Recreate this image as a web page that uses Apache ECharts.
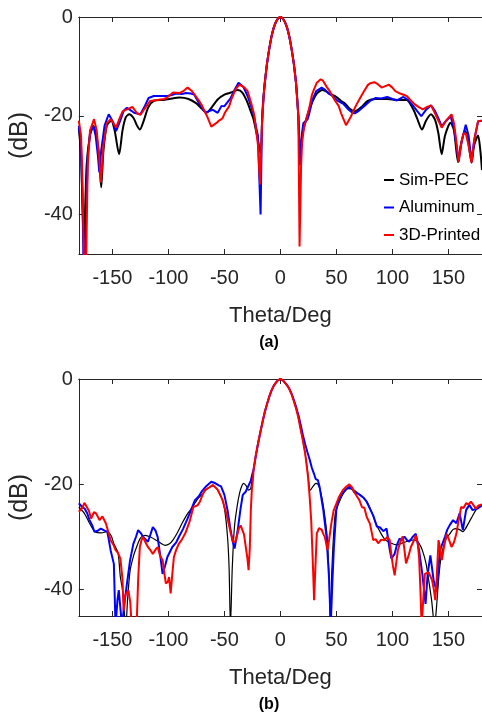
<!DOCTYPE html>
<html>
<head>
<meta charset="utf-8">
<script src="https://cdn.jsdelivr.net/npm/echarts@6/dist/echarts.min.js"></script>
<style>
html,body{margin:0;padding:0;background:#fff;}
#chart{width:482px;height:717px;}
</style>
</head>
<body>
<div id="chart"></div>
<script>
// ---------- data ----------
const seriesNames = ['Sim-PEC', 'Aluminum', '3D-Printed'];
const xTicks = [-150, -100, -50, 0, 50, 100, 150];
const yTicks = [-40, -20, 0];
const panelLabels = ['(a)', '(b)'];

// (a) top panel: [theta deg, dB]
const topSimPEC = [[-180,-22.5],[-178,-28],[-175.5,-46],[-173,-30],[-170,-24],[-167,-22],[-164,-24.5],[-162,-28],[-160,-34.5],[-158,-27],[-155,-22],[-151,-21],[-148,-23],[-144,-27.8],[-141,-23],[-138,-20.3],[-135,-19.7],[-131,-20.5],[-128,-22],[-125.5,-22.8],[-122,-21],[-118,-18.3],[-113,-17],[-105,-16.8],[-99,-16.6],[-90,-16.3],[-82,-16.6],[-75,-17.5],[-70,-18.6],[-66,-19.4],[-62,-18.5],[-56,-16.7],[-50,-15.7],[-44,-15.3],[-38,-14.8],[-34,-15.3],[-30,-17],[-26,-19.4],[-24,-20.7],[-21,-23.9],[-17.7,-27.6],[-16,-19],[-14,-13.5],[-12,-9.5],[-10,-6.5],[-8,-4],[-6,-2.2],[-4,-1],[-2,-0.25],[0,0],[2,-0.25],[4,-1],[6,-2.2],[8,-4],[10,-6.5],[12,-9.5],[14,-13.5],[16,-20],[17.5,-27.3],[20,-23.4],[23.8,-20.1],[28.1,-17.4],[32.5,-15.5],[37.5,-14.8],[45.5,-15.7],[50,-16.2],[54.2,-17],[58,-17.6],[62,-18.6],[66.4,-19.1],[72,-18.3],[78,-17],[85,-16.6],[95,-16.6],[105,-16.8],[112.7,-16.8],[118.6,-18.7],[122,-20.5],[126.4,-22.8],[130,-21],[134.5,-19.7],[138,-20.8],[141,-23.5],[144,-27.8],[147,-24],[151.9,-21.4],[155,-23],[158.6,-29.4],[161,-26],[164.9,-23.1],[167.5,-25],[170.7,-29.5],[173,-26],[176.5,-24],[178.5,-27],[180,-31]];
const topAluminum = [[-180,-22],[-178,-26],[-176.5,-40],[-175.5,-55],[-174,-45],[-172,-28],[-170,-23.5],[-167,-22.1],[-165,-24],[-163,-28],[-161.7,-31.5],[-160,-27],[-157,-22],[-153.3,-19.7],[-150,-21],[-146.7,-23.1],[-143,-21],[-140,-19],[-137,-18.4],[-133,-19],[-130.7,-19.4],[-125,-19.7],[-121,-18],[-117.7,-16.4],[-113,-16],[-106,-16],[-101,-16],[-97,-15.8],[-93,-15.5],[-88,-15.6],[-84.3,-15.4],[-80,-15.5],[-77,-15.7],[-72.8,-17.4],[-67,-19.4],[-63,-19],[-60.3,-18.8],[-56,-19.4],[-52.5,-18],[-50.2,-18.1],[-47,-17.2],[-44.4,-16.4],[-41,-14.8],[-37.4,-13.3],[-33,-14.2],[-29.3,-16],[-26,-18.2],[-23.5,-20.1],[-21.2,-22.9],[-20,-24.1],[-18.9,-32.2],[-17.7,-40],[-16.5,-22],[-15,-16],[-14,-13.5],[-12,-9.5],[-10,-6.5],[-8,-4],[-6,-2.2],[-4,-1],[-2,-0.25],[0,0],[2,-0.25],[4,-1],[6,-2.2],[8,-4],[10,-6.5],[12,-9.5],[14,-13.5],[16,-20],[17.5,-30],[19,-24],[20.5,-21.5],[21.7,-21.1],[24.3,-20.7],[25.5,-19.8],[28.7,-16.7],[32,-15],[36.8,-14.3],[39.7,-14.7],[43,-15.5],[46,-15.9],[51.3,-17],[56.2,-17.6],[61,-18.8],[64.3,-19.4],[66.4,-19.5],[70,-19],[75,-18],[80,-17],[85.2,-16.4],[90,-16.5],[95.4,-16.2],[100,-16.6],[104,-16.9],[109.8,-16.2],[114,-16.8],[118.6,-18],[122,-19],[125.8,-20.1],[130,-18.8],[134.5,-17.9],[138,-19],[141,-20.5],[144,-22.1],[148,-21],[151.9,-20.1],[155,-22.5],[159.1,-29.2],[162,-25],[165.5,-21.8],[168,-24],[170.7,-29.2],[173,-25],[176.5,-21.1],[180,-21]];
const topPrinted = [[-180,-21],[-178,-24],[-176.5,-35],[-175,-55],[-173.5,-50],[-172,-30],[-170,-23],[-166.4,-20.7],[-164,-23],[-162,-28],[-160.3,-33.5],[-158,-26],[-155,-21.5],[-151.6,-20.7],[-149,-21.5],[-146.7,-22.4],[-143.5,-20.5],[-140.9,-19.1],[-136,-18.6],[-132.2,-18.2],[-128,-19.5],[-125,-19.8],[-121,-18.5],[-116.2,-17],[-110,-16.8],[-104,-16.6],[-101.7,-16.4],[-98,-15.7],[-95.9,-15.3],[-90.1,-15.4],[-86,-14.9],[-82.9,-14.3],[-79,-15],[-75.7,-16],[-72,-17.2],[-69.9,-18],[-65.5,-20.1],[-61.7,-22.2],[-57.4,-21.5],[-55.4,-21.1],[-51.6,-20.5],[-49.6,-19.4],[-45.8,-18.1],[-43.8,-16.7],[-40,-14.6],[-36.5,-13.7],[-32,-14.3],[-29.3,-15],[-26,-17.5],[-23.5,-19.7],[-21.2,-23.7],[-20,-26],[-18.9,-31],[-18,-33.9],[-16.5,-22],[-15,-16],[-14,-13.5],[-12,-9.5],[-10,-6.5],[-8,-4],[-6,-2.2],[-4,-1],[-2,-0.25],[0,0],[2,-0.25],[4,-1],[6,-2.2],[8,-4],[10,-6.5],[12,-9.5],[14,-13.5],[16,-20],[17.1,-46.5],[18.5,-30],[19.4,-25.4],[21,-22.5],[23.8,-20.1],[25.8,-18.4],[28.1,-15.8],[30.1,-14.6],[32.5,-13.3],[36,-12.6],[38,-12.9],[41.2,-14.1],[44,-15],[48.4,-16.8],[52,-18],[54.2,-19.5],[58.6,-21.9],[60,-21.8],[62.9,-20.2],[65,-19.1],[68.7,-17.4],[72.2,-16],[74.5,-15.1],[78,-13.8],[80.3,-13.4],[83.8,-13.2],[87,-13.6],[90.4,-14.3],[94.8,-13.9],[96.8,-13.7],[100,-14.3],[102.6,-15],[107,-15.5],[112.8,-16],[116,-16.8],[120,-17.7],[124,-18.3],[127.2,-18.7],[131,-18.2],[134.5,-17.9],[138,-19.5],[141,-21],[144,-22.4],[148,-21],[152.8,-19.7],[155,-21.5],[157,-25],[159.1,-29.4],[161.5,-25.5],[163.5,-23.6],[165.5,-23.6],[168,-26],[170.7,-29.5],[173,-25],[176.5,-21.1],[180,-21]];

// (b) bottom panel: [theta deg, dB]
const botSimPEC = [[-180,-24.3],[-175,-25.5],[-170.4,-27.4],[-165.5,-29],[-160,-29.2],[-154.5,-29],[-151,-29.8],[-148.7,-31.3],[-145,-33],[-142.9,-37.6],[-141,-40],[-139.5,-44],[-138,-47],[-136.5,-42],[-134.2,-36.4],[-131,-33.5],[-128.4,-31.9],[-125,-30.2],[-120.6,-29.7],[-116,-30],[-111,-30.6],[-106,-31.3],[-103,-31.6],[-99,-31.3],[-96,-30.6],[-92,-29.2],[-87.8,-27.4],[-83,-25.6],[-79.1,-24.5],[-74,-22.8],[-70.4,-22],[-65,-20.8],[-61,-20.3],[-57,-20.8],[-53,-22.3],[-50,-24.5],[-47.2,-30],[-45.8,-36],[-44.6,-47],[-43,-36],[-41,-28],[-38.5,-24],[-36.5,-21.7],[-34.5,-20.3],[-32.8,-19.8],[-30.5,-20.3],[-28.4,-21.1],[-26.5,-20.8],[-25,-18.5],[-24,-17.3],[-22,-14.6],[-20,-12.3],[-18,-10.2],[-16,-8.2],[-14,-6.3],[-12,-4.8],[-10,-3.4],[-8,-2.2],[-6,-1.3],[-4,-0.7],[-2,-0.2],[0,0],[2,-0.2],[4,-0.7],[6,-1.2],[8,-1.9],[10,-2.9],[12,-4.2],[14,-5.6],[16,-7.3],[18,-9.5],[20,-11.6],[22,-14],[24,-17],[26.7,-21.1],[28.5,-20.6],[31.6,-19.8],[33.5,-20],[36,-21.5],[38.9,-24.9],[41.7,-30],[43.5,-38],[44.6,-47],[46,-36],[49,-25.5],[53.3,-23],[57,-21.5],[60.6,-20.8],[65,-21],[69.3,-21.7],[74,-22.5],[78,-23.6],[82,-25.5],[85.2,-27.4],[90,-29.4],[93.9,-30.6],[99,-31.2],[104,-31.5],[108,-31.2],[112.2,-30.9],[116,-30.6],[120.9,-30.6],[124,-31.3],[126.7,-32.5],[130,-35],[132.4,-38.2],[135,-42],[137.7,-47],[139.5,-43],[141.2,-38.2],[143,-34.5],[145.5,-31.9],[148,-30.3],[151.3,-29.4],[154,-28.6],[157.1,-28.4],[160,-28.6],[162.9,-29],[165,-28.5],[168.7,-27.1],[171.5,-26],[174.5,-24.9],[177,-24.4],[180,-24]];
const botAluminum = [[-180,-23.6],[-177,-24.3],[-174.8,-24.6],[-172.5,-25.5],[-170.4,-26.8],[-168,-27.8],[-166.1,-29],[-163,-28.8],[-160.3,-28.4],[-157,-28.8],[-154.5,-29],[-151.6,-32.5],[-148.7,-35.1],[-147.2,-47],[-145.5,-42],[-144.3,-40.1],[-141.4,-47],[-139.5,-43],[-137.1,-39],[-134.2,-34.4],[-131.3,-31.3],[-129,-30],[-127,-28.7],[-124.5,-29.3],[-122.6,-30],[-118.3,-30.9],[-116,-29.5],[-113.9,-28.1],[-111.5,-28.8],[-109.6,-30],[-107,-34],[-105.2,-37],[-103,-35.5],[-100.9,-33.8],[-96.5,-31.9],[-93,-31],[-90.7,-30],[-87,-28.5],[-83.5,-26.8],[-80,-25],[-76.3,-23],[-73,-22.3],[-70.4,-21.4],[-66,-20.3],[-61.7,-19.5],[-58,-19.8],[-55,-20.2],[-53,-20.4],[-50,-22],[-47.2,-24.9],[-45,-28],[-42.9,-30.6],[-40.9,-32.2],[-38,-28.5],[-35.7,-24.8],[-33.6,-22],[-31,-21.4],[-29.3,-21.2],[-26.4,-19.3],[-25,-18],[-24,-17.3],[-22,-14.6],[-20,-12.3],[-18,-10.2],[-16,-8.2],[-14,-6.3],[-12,-4.8],[-10,-3.4],[-8,-2.2],[-6,-1.3],[-4,-0.7],[-2,-0.2],[0,0],[2,-0.2],[4,-0.7],[6,-1.2],[8,-1.9],[10,-2.8],[12,-4],[14,-5.3],[16,-6.8],[18,-8.6],[20,-10.6],[22,-12.3],[24,-13.8],[26,-15.2],[28,-16.8],[30,-18],[31.5,-19],[33.5,-19.2],[35,-20.5],[36.5,-22.5],[38.3,-24.9],[41.2,-30],[43.5,-38],[44.9,-47],[46.5,-38],[47.8,-31.8],[49.9,-24.9],[52,-23],[54.2,-22],[57,-21.3],[59,-20.8],[61.5,-20.5],[64,-20.8],[66,-21.5],[68.7,-21.7],[71,-22],[74.5,-22.6],[77,-23.3],[80.3,-24.8],[83,-26],[86.1,-28],[89,-28.2],[91.9,-28.9],[94.8,-28.4],[97.6,-32.4],[99.1,-34.1],[102,-33.2],[104,-31.5],[106.4,-30.3],[108.5,-30.6],[110.7,-29.9],[113,-30.6],[115,-30.9],[118,-30],[120.9,-29.4],[123.8,-32.5],[126.7,-37],[129.6,-42.7],[131.5,-37],[133.9,-33.5],[136.8,-38.2],[139.7,-40.4],[141,-36],[142.6,-32.5],[147,-29.9],[149,-28.6],[151.3,-27.7],[154.2,-26.8],[157.1,-27.4],[160,-25.5],[162.9,-28.7],[165.8,-24.9],[168.7,-23.9],[171.6,-24.9],[175.9,-24.6],[180,-24]];
const botPrinted = [[-180,-25.2],[-177,-24.5],[-175,-23.5],[-173.3,-23.3],[-171,-25],[-169,-26.5],[-166.5,-25.3],[-164.6,-25.5],[-161.5,-26.8],[-158.9,-26.1],[-155.9,-27.4],[-153,-29.5],[-151.6,-30.6],[-149,-31.5],[-147.2,-32.5],[-145,-33],[-142.9,-34.1],[-141,-38],[-140,-44],[-138.5,-41],[-135.7,-40.1],[-134,-42.5],[-132.8,-47],[-128.4,-47],[-127,-38],[-125.5,-31.9],[-124,-30.6],[-122.6,-30],[-120.5,-31],[-118.3,-31.9],[-116,-32.5],[-113.9,-33.2],[-111.5,-32.4],[-109.6,-31.9],[-107.5,-33.5],[-105.2,-34.4],[-103.5,-37],[-102.3,-38.8],[-100.5,-38.5],[-99.4,-37.6],[-98,-40.7],[-96.5,-37],[-95.1,-33.8],[-93,-32.4],[-90.7,-31.3],[-88,-30.5],[-84.9,-29.3],[-81,-27],[-77.7,-24.3],[-74,-24],[-71.9,-23.3],[-69.5,-22],[-67.5,-21.1],[-63.5,-20.6],[-60.3,-20.1],[-56,-21],[-51.6,-23],[-48,-25.8],[-44.3,-29.3],[-42,-31],[-40,-30.8],[-37.1,-28.4],[-35.5,-27.8],[-34.2,-27.5],[-32.5,-29.5],[-31.3,-31.3],[-29.5,-34],[-28.4,-36.3],[-27.3,-32],[-26.4,-24.9],[-25.5,-21],[-24.6,-19.2],[-24,-17.3],[-22,-14.6],[-20,-12.3],[-18,-10.2],[-16,-8.2],[-14,-6.3],[-12,-4.8],[-10,-3.4],[-8,-2.2],[-6,-1.3],[-4,-0.7],[-2,-0.2],[0,0],[2,-0.2],[4,-0.7],[6,-1.2],[8,-1.9],[10,-2.9],[12,-4.2],[14,-5.6],[16,-7.3],[18,-9.5],[20,-11.6],[22,-14],[23.5,-16.5],[24.6,-18.5],[26,-22],[27.5,-26.8],[28.8,-34],[30.1,-42],[31.2,-36],[32.5,-29.3],[34.5,-28.3],[36.8,-28.6],[38.5,-29.5],[39.7,-30],[42,-32.5],[43.5,-30.5],[45.5,-27.4],[47.5,-25],[49.9,-23.7],[52.5,-22.3],[55.7,-21.1],[58.5,-20.5],[61.5,-20],[64,-20.6],[66,-21.5],[68.7,-22.4],[70.5,-23],[72.8,-24.3],[75,-24.5],[77.1,-26.2],[80,-27.5],[82.9,-30.6],[85,-30.4],[87.3,-31.2],[90,-30.5],[93,-30.6],[95.5,-30],[97.6,-30.6],[99.1,-33.5],[100.5,-35.5],[102,-37.3],[104.9,-32.5],[107,-31],[109.2,-29.9],[110.5,-32],[112.2,-35],[114.5,-33.5],[116.5,-31.9],[118.5,-31],[120.9,-29.7],[122.5,-31],[123.8,-33.8],[125,-40],[126.1,-47],[127.5,-42],[129,-37],[132.4,-36.7],[134,-37.5],[135.4,-38.2],[137,-40],[138.3,-42],[139.5,-38],[141.2,-30.6],[142.5,-32],[144.1,-34.4],[146,-32],[148.4,-29.4],[150.5,-30.5],[152.8,-31.9],[155,-31],[157.1,-29.4],[159,-27],[161.4,-24.3],[163.5,-24.5],[165.8,-23.6],[168,-23.8],[170.1,-23.3],[172.5,-24],[174.5,-24.6],[177,-24],[180,-23.8]];

// ---------- chart ----------
const FONT = "'Liberation Sans',Arial,sans-serif";
const TXT = '#262626';
const colors = ['#000000', '#0000ff', '#ff0000'];
const chart = echarts.init(document.getElementById('chart'), null, {renderer: 'canvas'});

const panels = [
  {top: 17, height: 237, ymin: -48},
  {top: 379, height: 237, ymin: -45}
];

const grids = [], xAxes = [], yAxes = [];
panels.forEach((p, i) => {
  grids.push({left: 70, right: -2, top: p.top, height: p.height, containLabel: false});
  const tick = {show: true, inside: true, length: 5, lineStyle: {color: TXT, width: 1}, customValues: xTicks};
  xAxes.push({
    type: 'value', gridIndex: i, min: -180, max: 180, position: 'bottom',
    axisLine: {show: true, onZero: false, lineStyle: {color: TXT, width: 1}},
    axisTick: tick,
    axisLabel: {show: true, customValues: xTicks, color: TXT, fontFamily: FONT, fontSize: 20, margin: 14},
    splitLine: {show: false},
    name: 'Theta/Deg', nameLocation: 'middle', nameGap: 51,
    nameTextStyle: {color: TXT, fontFamily: FONT, fontSize: 22}
  });
  xAxes.push({
    type: 'value', gridIndex: i, min: -180, max: 180, position: 'top',
    axisLine: {show: true, onZero: false, lineStyle: {color: TXT, width: 1}},
    axisTick: tick, axisLabel: {show: false}, splitLine: {show: false}
  });
  const ytick = {show: true, inside: true, length: 5, lineStyle: {color: TXT, width: 1}, customValues: yTicks};
  yAxes.push({
    type: 'value', gridIndex: i, min: p.ymin, max: 0, position: 'left',
    axisLine: {show: true, onZero: false, lineStyle: {color: TXT, width: 1}},
    axisTick: ytick,
    axisLabel: {show: true, customValues: yTicks, color: TXT, fontFamily: FONT, fontSize: 20, margin: 6},
    splitLine: {show: false},
    name: '(dB)', nameLocation: 'middle', nameGap: 31, nameRotate: 90,
    nameTextStyle: {color: TXT, fontFamily: FONT, fontSize: 25}
  });
  yAxes.push({
    type: 'value', gridIndex: i, min: p.ymin, max: 0, position: 'right',
    axisLine: {show: true, onZero: false, lineStyle: {color: TXT, width: 1}},
    axisTick: ytick, axisLabel: {show: false}, splitLine: {show: false}
  });
});

const panelData = [
  [topSimPEC, topAluminum, topPrinted],
  [botSimPEC, botAluminum, botPrinted]
];
const series = [];
panelData.forEach((arrs, i) => {
  arrs.forEach((d, k) => {
    series.push({
      name: seriesNames[k], type: 'line', xAxisIndex: i * 2, yAxisIndex: i * 2,
      data: d, showSymbol: false, symbol: 'none', smooth: k === 0 ? 0.25 : false,
      lineStyle: {color: colors[k], width: (i === 1 && k === 0) ? 1.2 : 2},
      itemStyle: {color: colors[k]}, clip: true, z: 2 + k
    });
  });
});

chart.setOption({
  animation: false,
  backgroundColor: '#ffffff',
  grid: grids, xAxis: xAxes, yAxis: yAxes, series: series,
  legend: {
    data: seriesNames, orient: 'vertical', left: 384, top: 170, padding: 0,
    icon: 'rect', itemWidth: 10, itemHeight: 2, itemGap: 7.5,
    textStyle: {color: '#000', fontFamily: FONT, fontSize: 17, lineHeight: 20}
  },
  graphic: [
    {type: 'text', x: 269, y: 343, style: {text: panelLabels[0], fill: '#000', font: "bold 16px 'Liberation Sans',Arial,sans-serif", textAlign: 'center', textVerticalAlign: 'middle'}},
    {type: 'text', x: 269, y: 705, style: {text: panelLabels[1], fill: '#000', font: "bold 16px 'Liberation Sans',Arial,sans-serif", textAlign: 'center', textVerticalAlign: 'middle'}}
  ]
});
</script>
</body>
</html>
